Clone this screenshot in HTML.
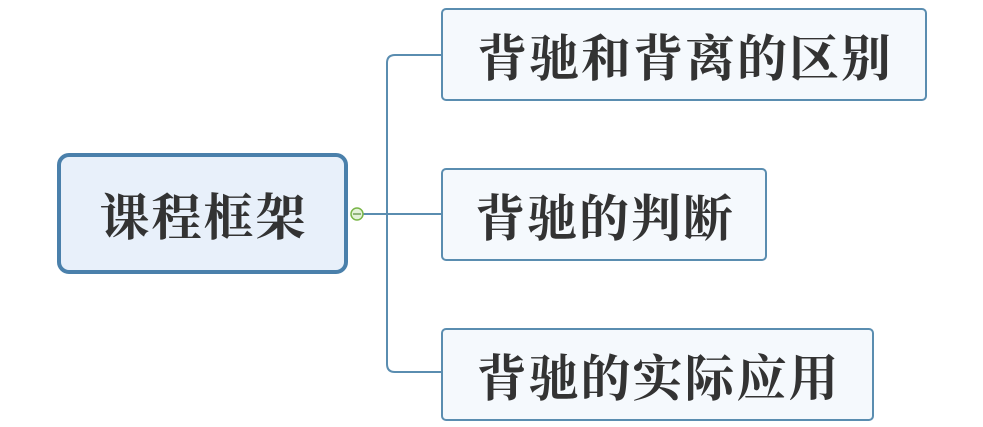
<!DOCTYPE html>
<html><head><meta charset="utf-8"><style>
body{margin:0;width:983px;height:427px;background:#fff;position:relative;overflow:hidden;font-family:"Liberation Serif","Noto Serif CJK SC",serif;font-weight:bold;color:#333}
.b{position:absolute;box-sizing:border-box;display:flex;align-items:center;justify-content:center;}
.s{border:2px solid #5a8db0;border-radius:5px;background:#f5f9fd;font-size:50px;letter-spacing:2px;height:93px;padding-left:2px}
</style></head><body>
<svg width="983" height="427" style="position:absolute;left:0;top:0">
<path d="M363 214H441M441 55H395Q387 55 387 63V364Q387 372 395 372H441" fill="none" stroke="#5a8db0" stroke-width="2"/>
<circle cx="357" cy="214" r="6" fill="#e3f2d8" stroke="#7ab648" stroke-width="1.5"/>
<line x1="353" y1="214" x2="361" y2="214" stroke="#5a8a3c" stroke-width="1.2"/>
</svg>
<div class="b" style="left:57px;top:153px;width:291px;height:121px;border:4px solid #4a80ab;border-radius:12px;background:#e8f0fa;font-size:50px;letter-spacing:2px;padding-left:2px">课程框架</div>
<div class="b s" style="left:441px;top:8px;width:486px">背驰和背离的区别</div>
<div class="b s" style="left:441px;top:168px;width:326px">背驰的判断</div>
<div class="b s" style="left:441px;top:328px;width:433px">背驰的实际应用</div>
</body></html>
